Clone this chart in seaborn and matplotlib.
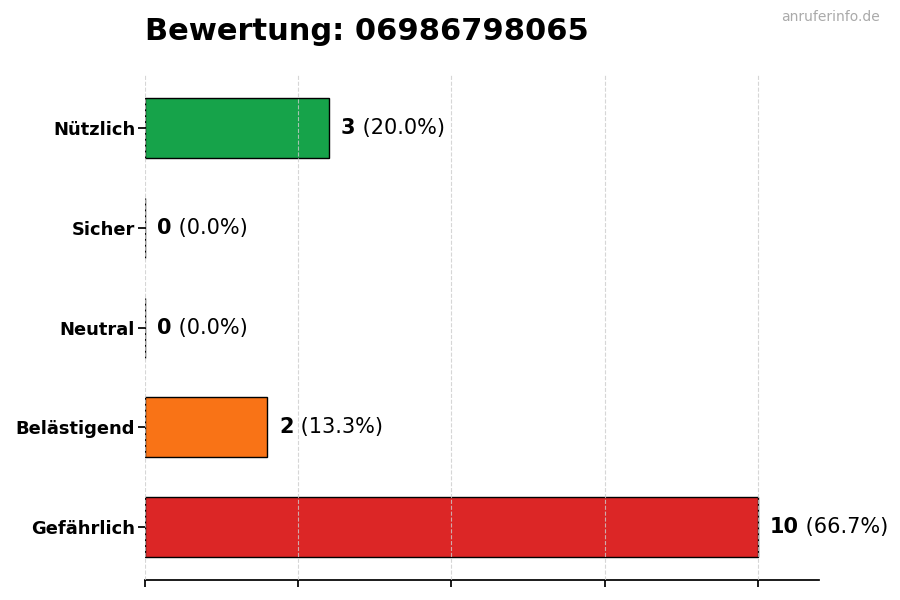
import numpy as np
import matplotlib
matplotlib.use("Agg")
import matplotlib.pyplot as plt
import seaborn as sns
import pandas as pd

categories = ['Nützlich', 'Sicher', 'Neutral', 'Belästigend', 'Gefährlich']
counts = [3, 0, 0, 2, 10]
colors = ['#16a34a', '#9ca3af', '#6b7280', '#f97316', '#dc2626']
title = 'Bewertung: 06986798065'
watermark = 'anruferinfo.de'

total = sum(counts)
data = pd.DataFrame({'Kategorie': categories, 'Anzahl': counts})

sns.set_theme(style="white")
plt.rcParams['font.family'] = ['DejaVu Sans']
plt.rcParams['text.color'] = 'black'
plt.rcParams['xtick.color'] = 'black'
plt.rcParams['ytick.color'] = 'black'

fig = plt.figure(figsize=(9, 6), dpi=100)
ax = fig.add_axes([0.161, 0.033, 0.749, 0.842])

sns.barplot(data=data, y='Kategorie', x='Anzahl', hue='Kategorie', palette=colors,
            orient='h', width=0.6, edgecolor='black', linewidth=1, saturation=1,
            legend=False, ax=ax)

ax.set_xlim(0, 11)
ax.set_ylim(4.53, -0.53)
ax.set_xticks([0, 2.5, 5, 7.5, 10])
ax.set_xticklabels([])
ax.grid(axis='x', linestyle='--', color='#cccccc', linewidth=0.8, alpha=0.8)
ax.set_axisbelow(False)
for s in ['top', 'right', 'left']:
    ax.spines[s].set_visible(False)
ax.spines['bottom'].set_color('black')
ax.tick_params(axis='x', length=5, color='black', bottom=True)
ax.tick_params(axis='y', length=5, color='black', left=True, labelsize=12.9,
               labelcolor='black', pad=2)
for lbl in ax.get_yticklabels():
    lbl.set_fontweight('bold')
ax.set_xlabel('')
ax.set_ylabel('')

fig.canvas.draw()
renderer = fig.canvas.get_renderer()
for i, c in enumerate(counts):
    pct = c / total * 100
    t = ax.text(c + 0.2, i, str(c), fontsize=15, fontweight='bold', va='center', ha='left', color='black')
    bb = t.get_window_extent(renderer=renderer)
    ax.annotate(f' ({pct:.1f}%)', xy=(bb.x1, (bb.y0 + bb.y1) / 2), xycoords='figure pixels',
                fontsize=15, va='center', ha='left', color='black')

fig.text(0.161, 0.934, title, fontsize=22, fontweight='bold', ha='left', va='baseline', color='black')
fig.text(0.978, 0.965, watermark, fontsize=10, color='#aaaaaa', ha='right', va='baseline')

fig.savefig('out.png', dpi=100)
